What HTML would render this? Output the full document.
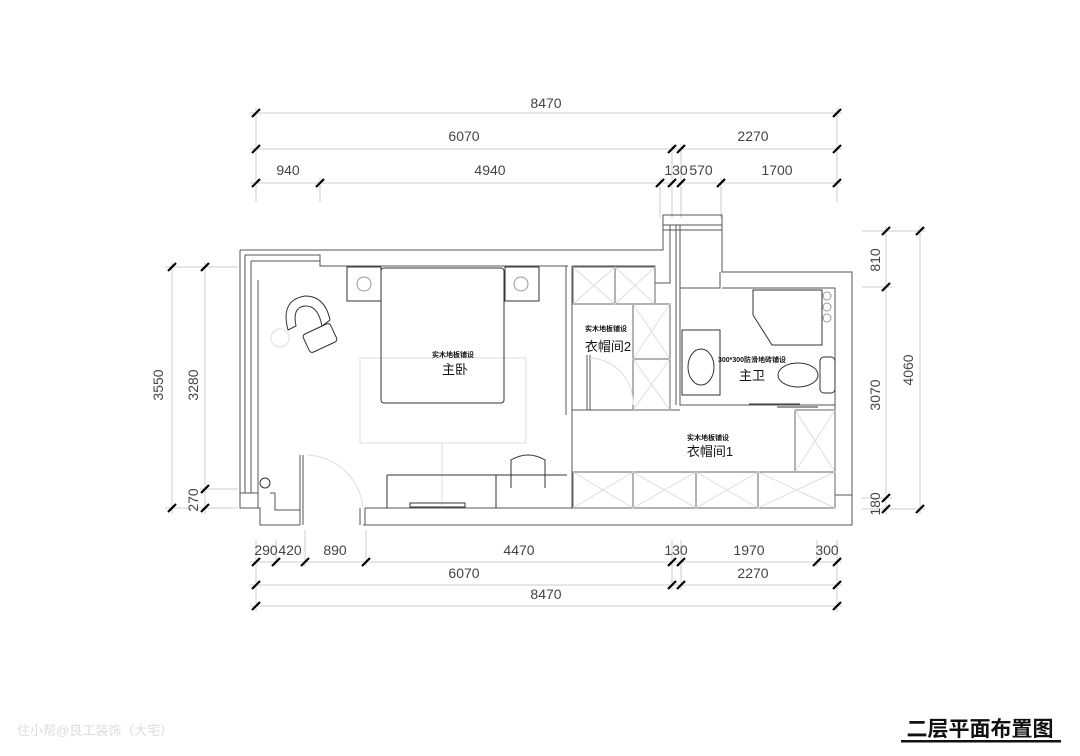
<!DOCTYPE html>
<html><head><meta charset="utf-8"><style>
html,body{margin:0;padding:0;background:#fff;width:1080px;height:756px;overflow:hidden}
svg{display:block}
.d{font-family:"Liberation Sans",sans-serif;font-size:14px;fill:#444}
.c{font-family:"Liberation Sans","Noto Sans CJK SC",sans-serif;fill:#111}
</style></head><body>
<svg width="1080" height="756" viewBox="0 0 1080 756" xmlns="http://www.w3.org/2000/svg">
<defs><g id="t"><line x1="-4" y1="4" x2="4" y2="-4" stroke="#000" stroke-width="2.2"/></g></defs>
<!-- top dims -->
<g stroke="#ccc" stroke-width="1" fill="none">
<line x1="250" y1="113" x2="842" y2="113"/><line x1="250" y1="149" x2="842" y2="149"/><line x1="250" y1="183" x2="842" y2="183"/>
<line x1="256" y1="108" x2="256" y2="202"/><line x1="837" y1="108" x2="837" y2="202"/>
<line x1="320" y1="178" x2="320" y2="202"/><line x1="660" y1="178" x2="660" y2="218"/><line x1="672" y1="144" x2="672" y2="218"/><line x1="681" y1="144" x2="681" y2="218"/><line x1="721" y1="178" x2="721" y2="218"/>
<!-- bottom dims -->
<line x1="250" y1="562" x2="842" y2="562"/><line x1="250" y1="585" x2="842" y2="585"/><line x1="250" y1="606" x2="842" y2="606"/>
<line x1="256" y1="540" x2="256" y2="612"/><line x1="837" y1="540" x2="837" y2="612"/>
<line x1="276" y1="540" x2="276" y2="566"/><line x1="305" y1="530" x2="305" y2="566"/><line x1="366" y1="530" x2="366" y2="566"/><line x1="672" y1="540" x2="672" y2="590"/><line x1="681" y1="540" x2="681" y2="590"/><line x1="817" y1="540" x2="817" y2="566"/>
<!-- left dims -->
<line x1="172" y1="262" x2="172" y2="514"/><line x1="205" y1="262" x2="205" y2="514"/>
<line x1="165" y1="267" x2="238" y2="267"/><line x1="200" y1="489" x2="238" y2="489"/><line x1="165" y1="508" x2="238" y2="508"/>
<!-- right dims -->
<line x1="886" y1="226" x2="886" y2="514"/><line x1="920" y1="226" x2="920" y2="514"/>
<line x1="862" y1="231" x2="925" y2="231"/><line x1="862" y1="287" x2="892" y2="287"/><line x1="862" y1="498" x2="892" y2="498"/><line x1="862" y1="509" x2="925" y2="509"/>
</g>
<g>
<use href="#t" x="256" y="113"/><use href="#t" x="837" y="113"/>
<use href="#t" x="256" y="149"/><use href="#t" x="672" y="149"/><use href="#t" x="681" y="149"/><use href="#t" x="837" y="149"/>
<use href="#t" x="256" y="183"/><use href="#t" x="320" y="183"/><use href="#t" x="660" y="183"/><use href="#t" x="672" y="183"/><use href="#t" x="681" y="183"/><use href="#t" x="721" y="183"/><use href="#t" x="837" y="183"/>
<use href="#t" x="256" y="562"/><use href="#t" x="276" y="562"/><use href="#t" x="305" y="562"/><use href="#t" x="366" y="562"/><use href="#t" x="672" y="562"/><use href="#t" x="681" y="562"/><use href="#t" x="817" y="562"/><use href="#t" x="837" y="562"/>
<use href="#t" x="256" y="585"/><use href="#t" x="672" y="585"/><use href="#t" x="681" y="585"/><use href="#t" x="837" y="585"/>
<use href="#t" x="256" y="606"/><use href="#t" x="837" y="606"/>
<use href="#t" x="172" y="267"/><use href="#t" x="172" y="508"/><use href="#t" x="205" y="267"/><use href="#t" x="205" y="489"/><use href="#t" x="205" y="508"/>
<use href="#t" x="886" y="231"/><use href="#t" x="886" y="287"/><use href="#t" x="886" y="498"/><use href="#t" x="886" y="509"/><use href="#t" x="920" y="231"/><use href="#t" x="920" y="509"/>
</g>
<g class="d" text-anchor="middle">
<text x="546" y="108">8470</text><text x="464" y="141">6070</text><text x="753" y="141">2270</text>
<text x="288" y="175">940</text><text x="490" y="175">4940</text><text x="676" y="175">130</text><text x="701" y="175">570</text><text x="777" y="175">1700</text>
<text x="266" y="555">290</text><text x="290" y="555">420</text><text x="335" y="555">890</text><text x="519" y="555">4470</text><text x="676" y="555">130</text><text x="749" y="555">1970</text><text x="827" y="555">300</text>
<text x="464" y="578">6070</text><text x="753" y="578">2270</text><text x="546" y="599">8470</text>
<text transform="translate(163,385) rotate(-90)">3550</text><text transform="translate(198,385) rotate(-90)">3280</text><text transform="translate(198,500) rotate(-90)">270</text>
<text transform="translate(880,260) rotate(-90)">810</text><text transform="translate(880,395) rotate(-90)">3070</text><text transform="translate(880,504) rotate(-90)">180</text><text transform="translate(913,370) rotate(-90)">4060</text>
</g>
<!-- walls -->
<g fill="none" stroke="#555" stroke-width="1">
<path d="M240,250 H320 V250 H663 V215 H722 V272 H852 V525 H363"/>
<path d="M240,250 V508 H260 V525 H300"/>
<path d="M245,255 H320 V266 H568 M251,261 H320"/>
<line x1="245" y1="255" x2="245" y2="493"/><line x1="251" y1="261" x2="251" y2="493"/>
<path d="M258,280 V493 H240 M258,493 V508"/>
<path d="M270,493 H275 V510 H300 V525"/>
<line x1="300" y1="455" x2="300" y2="525"/><line x1="303" y1="455" x2="303" y2="525"/>
<line x1="360" y1="508" x2="360" y2="525"/><line x1="365" y1="508" x2="365" y2="525"/>
<line x1="365" y1="508" x2="835" y2="508"/>
<line x1="566" y1="266" x2="566" y2="415"/><line x1="572" y1="266" x2="572" y2="508"/>
<path d="M572,266 H655 V283 H670 V225 H680 V288 H720 V272"/>
<path d="M680,288 V405 H835 V288 H722"/>
<line x1="676" y1="225" x2="676" y2="405"/>
<path d="M835,405 V495 H852"/>
<line x1="572" y1="410" x2="680" y2="410"/>
<line x1="587" y1="355" x2="587" y2="410"/><line x1="590" y1="355" x2="590" y2="410"/>
<line x1="663" y1="225" x2="722" y2="225"/><line x1="663" y1="230" x2="722" y2="230"/>
</g>
<!-- closet 2 cabinets -->
<g fill="none" stroke="#666">
<rect x="573" y="267" width="42" height="37"/><rect x="615" y="267" width="40" height="37"/>
<rect x="633" y="304" width="37" height="55"/><rect x="633" y="359" width="37" height="51"/>
<rect x="795" y="410" width="40" height="62"/>
<rect x="573" y="472" width="60" height="36"/><rect x="633" y="472" width="63" height="36"/><rect x="696" y="472" width="62" height="36"/><rect x="758" y="472" width="77" height="36"/>
</g>
<g stroke="#ddd" fill="none">
<path d="M573,267 L615,304 M615,267 L573,304 M615,267 L655,304 M655,267 L615,304 M633,304 L670,359 M670,304 L633,359 M633,359 L670,410 M670,359 L633,410 M795,410 L835,472 M835,410 L795,472 M573,472 L633,508 M633,472 L573,508 M633,472 L696,508 M696,472 L633,508 M696,472 L758,508 M758,472 L696,508 M758,472 L835,508 M835,472 L758,508"/>
<path d="M590,358 A45,45 0 0 1 633,405"/>
<rect x="360" y="358" width="166" height="85"/>
<path d="M307,455 A58,58 0 0 1 363,508"/>
<circle cx="280" cy="338" r="9"/>
<line x1="442" y1="443" x2="442" y2="508"/>
</g>
<!-- bedroom furniture -->
<g fill="none" stroke="#333">
<rect x="347" y="267" width="34" height="34"/><rect x="505" y="267" width="34" height="34"/>
<rect x="381" y="268" width="123" height="135" rx="3"/>
<rect x="386" y="508" width="0" height="0"/>
<path d="M387,475 H496 V508 M496,475 H567 M387,475 V508"/>
<rect x="410" y="503" width="55" height="4"/>
<path d="M288,330 Q280,300 305,296 Q325,296 330,320 L322,326 Q318,305 305,306 Q292,307 296,326 Z"/>
<rect x="305" y="328" width="30" height="20" rx="3" transform="rotate(-25 320 338)"/>
<path d="M511,488 V460 Q528,450 545,460 V488"/>
<rect x="260" y="478" width="10" height="10" rx="5"/>
<!-- bath -->
<path d="M753,290 V315 L772,345 H822 V290 Z"/>
<rect x="682" y="330" width="38" height="65"/>
<ellipse cx="701" cy="367" rx="13" ry="18"/>
<ellipse cx="798" cy="375" rx="20" ry="12"/><rect x="820" y="357" width="15" height="36" rx="4"/>
<path d="M749,404 H800 M777,407 H818"/>
</g>
<g fill="none" stroke="#999"><circle cx="827" cy="296" r="4"/><circle cx="827" cy="307" r="4"/><circle cx="827" cy="318" r="4"/><circle cx="364" cy="284" r="7"/><circle cx="521" cy="284" r="7"/></g>
<g class="c" text-anchor="middle">
<text x="453" y="357" font-size="7" font-weight="bold">实木地板铺设</text><text x="455" y="374" font-size="13">主卧</text>
<text x="606" y="331" font-size="7" font-weight="bold">实木地板铺设</text><text x="608" y="351" font-size="13">衣帽间2</text>
<text x="752" y="362" font-size="7" font-weight="bold">300*300防滑地砖铺设</text><text x="752" y="380" font-size="13">主卫</text>
<text x="708" y="440" font-size="7" font-weight="bold">实木地板铺设</text><text x="710" y="456" font-size="13">衣帽间1</text>
<text x="980" y="736" font-size="21" font-weight="bold">二层平面布置图</text>
</g>
<rect x="901" y="740" width="160" height="2.5" fill="#111"/>
<text x="17" y="735" font-family="Liberation Sans,'Noto Sans CJK SC',sans-serif" font-size="13" fill="#ddd">住小帮@良工装饰（大宅）</text>
</svg>
</body></html>
